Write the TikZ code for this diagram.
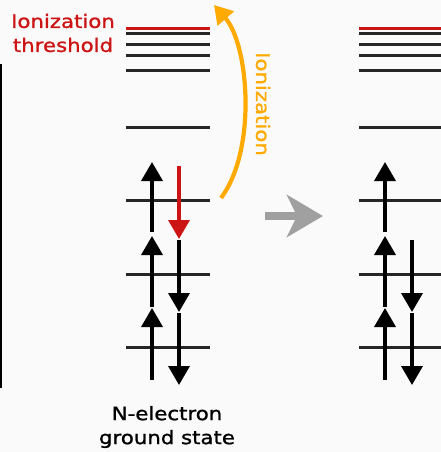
\documentclass[tikz,border=0pt]{standalone}
\usepackage{fontspec}
\setmainfont[FakeStretch=1.15,FakeBold=1.2]{DejaVu Sans}
\usetikzlibrary{arrows.meta}
\definecolor{bg}{RGB}{250,250,250}
\definecolor{thrred}{RGB}{205,20,20}
\definecolor{ionorange}{RGB}{255,170,0}
\definecolor{shiftgray}{RGB}{160,160,160}
\tikzset{
  level/.style={line width=3pt, black!85},
  thrlevel/.style={line width=3pt, thrred},
  spinup/.style={line width=3.6pt, -{Triangle[width=21pt,length=19pt]}},
  spindown/.style={line width=3.6pt, -{Triangle[width=21pt,length=19pt]}},
  label/.style={font=\fontsize{18.5}{24}\selectfont, align=center, inner sep=0pt}
}
\begin{document}
\begin{tikzpicture}[x=1pt,y=-1pt]
  \fill[bg] (0,0) rectangle (441,452);
  \useasboundingbox (0,0) rectangle (441,452);

  % frame edge on the left
  \coordinate (e1) at (1,64);
  \coordinate (e2) at (1,388);
  \draw[line width=2pt] (e1) -- (e2);

  % energy levels, left (neutral) and right (ion) ladders
  \foreach \side/\xa/\xb in {L/126/210, R/359/441} {
    \coordinate (\side thrA) at (\xa,29);
    \coordinate (\side thrB) at (\xb,29);
    \draw[thrlevel] (\side thrA) -- (\side thrB);
    \foreach \i/\y in {1/34, 2/45, 3/56, 4/70, 5/127, 6/200, 7/274, 8/347} {
      \coordinate (\side a\i) at (\xa,\y);
      \coordinate (\side b\i) at (\xb,\y);
      \draw[level] (\side a\i) -- (\side b\i);
    }
  }

  % electrons in the N-electron ground state
  \coordinate (Lu1s) at (152,232); \coordinate (Lu1e) at (152,162);
  \coordinate (Lu2s) at (152,307); \coordinate (Lu2e) at (152,236);
  \coordinate (Lu3s) at (152,380); \coordinate (Lu3e) at (152,308);
  \draw[spinup] (Lu1s) -- (Lu1e);
  \draw[spinup] (Lu2s) -- (Lu2e);
  \draw[spinup] (Lu3s) -- (Lu3e);
  \coordinate (Ld1s) at (179,166); \coordinate (Ld1e) at (179,239);
  \coordinate (Ld2s) at (179,240); \coordinate (Ld2e) at (179,312);
  \coordinate (Ld3s) at (179,313); \coordinate (Ld3e) at (179,385);
  \draw[spindown, thrred] (Ld1s) -- (Ld1e);
  \draw[spindown] (Ld2s) -- (Ld2e);
  \draw[spindown] (Ld3s) -- (Ld3e);

  % electrons left in the ion
  \coordinate (Ru1s) at (385,232); \coordinate (Ru1e) at (385,162);
  \coordinate (Ru2s) at (385,307); \coordinate (Ru2e) at (385,236);
  \coordinate (Ru3s) at (385,380); \coordinate (Ru3e) at (385,308);
  \draw[spinup] (Ru1s) -- (Ru1e);
  \draw[spinup] (Ru2s) -- (Ru2e);
  \draw[spinup] (Ru3s) -- (Ru3e);
  \coordinate (Rd2s) at (412,240); \coordinate (Rd2e) at (412,312);
  \coordinate (Rd3s) at (412,313); \coordinate (Rd3e) at (412,385);
  \draw[spindown] (Rd2s) -- (Rd2e);
  \draw[spindown] (Rd3s) -- (Rd3e);

  % ionization arrow
  \coordinate (ionS) at (221,198);
  \coordinate (ionE) at (214,5);
  \draw[ionorange, line width=4.2pt, -{Triangle[width=21pt,length=18pt]}]
    (ionS) .. controls (257,150) and (249,45) .. (ionE);
  \node[label, text=ionorange, rotate=-90] (ionlbl) at (263,104) {Ionization};

  % transition arrow between the two states
  \coordinate (shS) at (265,216);
  \coordinate (shE) at (323,216);
  \draw[shiftgray, line width=8pt, -{Stealth[width=42pt,length=36pt,inset=10pt]}] (shS) -- (shE);

  % labels
  \node[label, text=thrred] (thr) at (63,33) {Ionization\\threshold};
  \node[label] (gs) at (167,427) {N-electron\\ground state};
\end{tikzpicture}
\end{document}
